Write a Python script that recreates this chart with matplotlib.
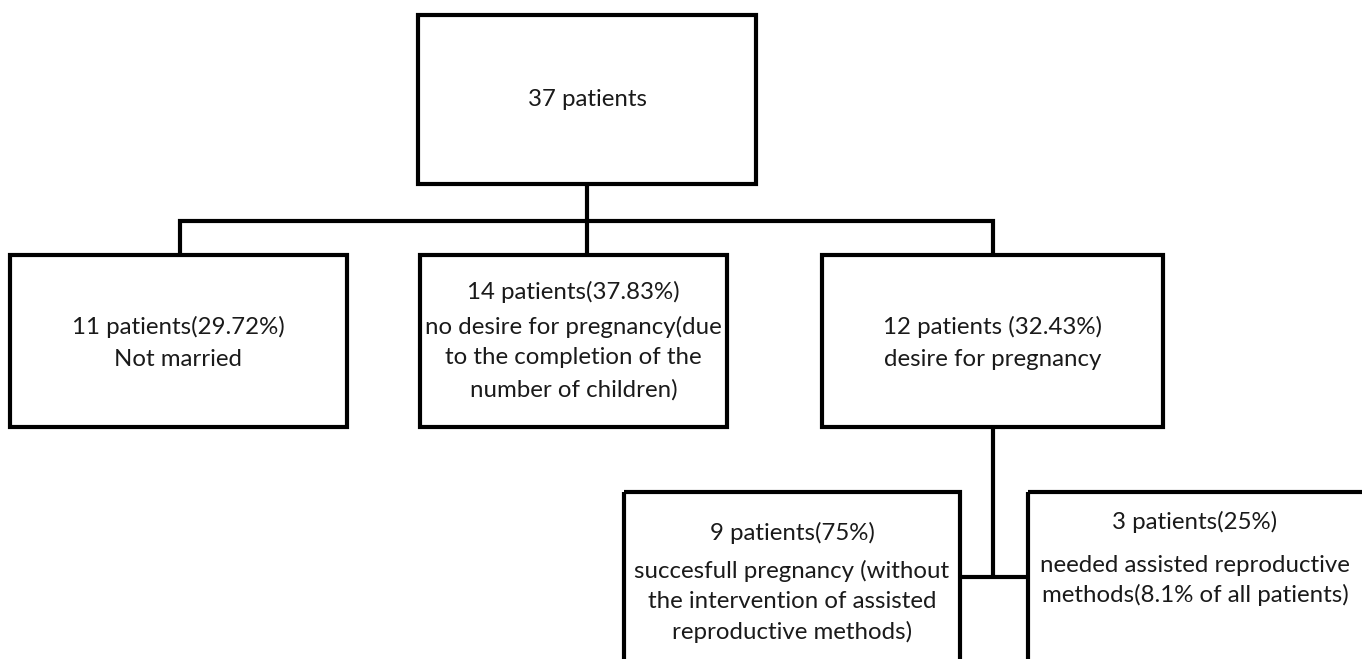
import matplotlib
matplotlib.use("Agg")
import matplotlib.pyplot as plt
from matplotlib.patches import Rectangle

# textos das caixas
topo = ["37 patients"]
nivel2 = [
    ["11 patients(29.72%)", "Not married"],
    ["14 patients(37.83%)", "no desire for pregnancy(due", "to the completion of the", "number of children)"],
    ["12 patients (32.43%)", "desire for pregnancy"],
]
nivel3 = [
    ["9 patients(75%)", "succesfull pregnancy (without", "the intervention of assisted", "reproductive methods)"],
    ["3 patients(25%)", "needed assisted reproductive", "methods(8.1% of all patients)"],
]

W, H = 1362, 659
fig = plt.figure(figsize=(W / 100, H / 100), dpi=100)
ax = fig.add_axes([0, 0, 1, 1])
ax.set_xlim(0, W)
ax.set_ylim(H, 0)
ax.axis("off")

LW = 3.0
FONTE = dict(family=["Lato", "DejaVu Sans"], fontsize=17.3, color="#1a1a1a",
             ha="center", va="center")


def caixa(x0, y0, x1, y1):
    ax.add_patch(Rectangle((x0, y0), x1 - x0, y1 - y0, fill=False,
                           lw=LW, ec="black", joinstyle="miter", clip_on=False))


def linha(xs, ys):
    ax.plot(xs, ys, color="black", lw=LW, solid_capstyle="butt", solid_joinstyle="miter")


def textos(cx, linhas, ys):
    for t, y in zip(linhas, ys):
        ax.text(cx, y, t, **FONTE)


# caixa do topo
caixa(418, 15, 756, 184)
textos(587, topo, [100])

# conectores do nivel 2
linha([587, 587], [184, 255])
linha([180, 180, 993, 993], [255, 221, 221, 255])

# caixas do nivel 2
n2_box = [(10, 347), (420, 727), (822, 1163)]
n2_ys = [[327, 360], [292, 327, 358, 390], [327, 360]]
for (x0, x1), linhas_, ys in zip(n2_box, nivel2, n2_ys):
    caixa(x0, 255, x1, 427)
    textos((x0 + x1) / 2, linhas_, ys)

# conectores do nivel 3
linha([993, 993], [427, 577])
linha([960, 1028], [577, 577])

# caixas do nivel 3 (cortadas pela borda da imagem)
caixa(624, 492, 960, 700)
caixa(1028, 492, 1420, 700)
textos(792, nivel3[0], [533, 571, 602, 632])
textos(1195, nivel3[1], [522, 565, 595])

fig.savefig("out.png", dpi=100)
